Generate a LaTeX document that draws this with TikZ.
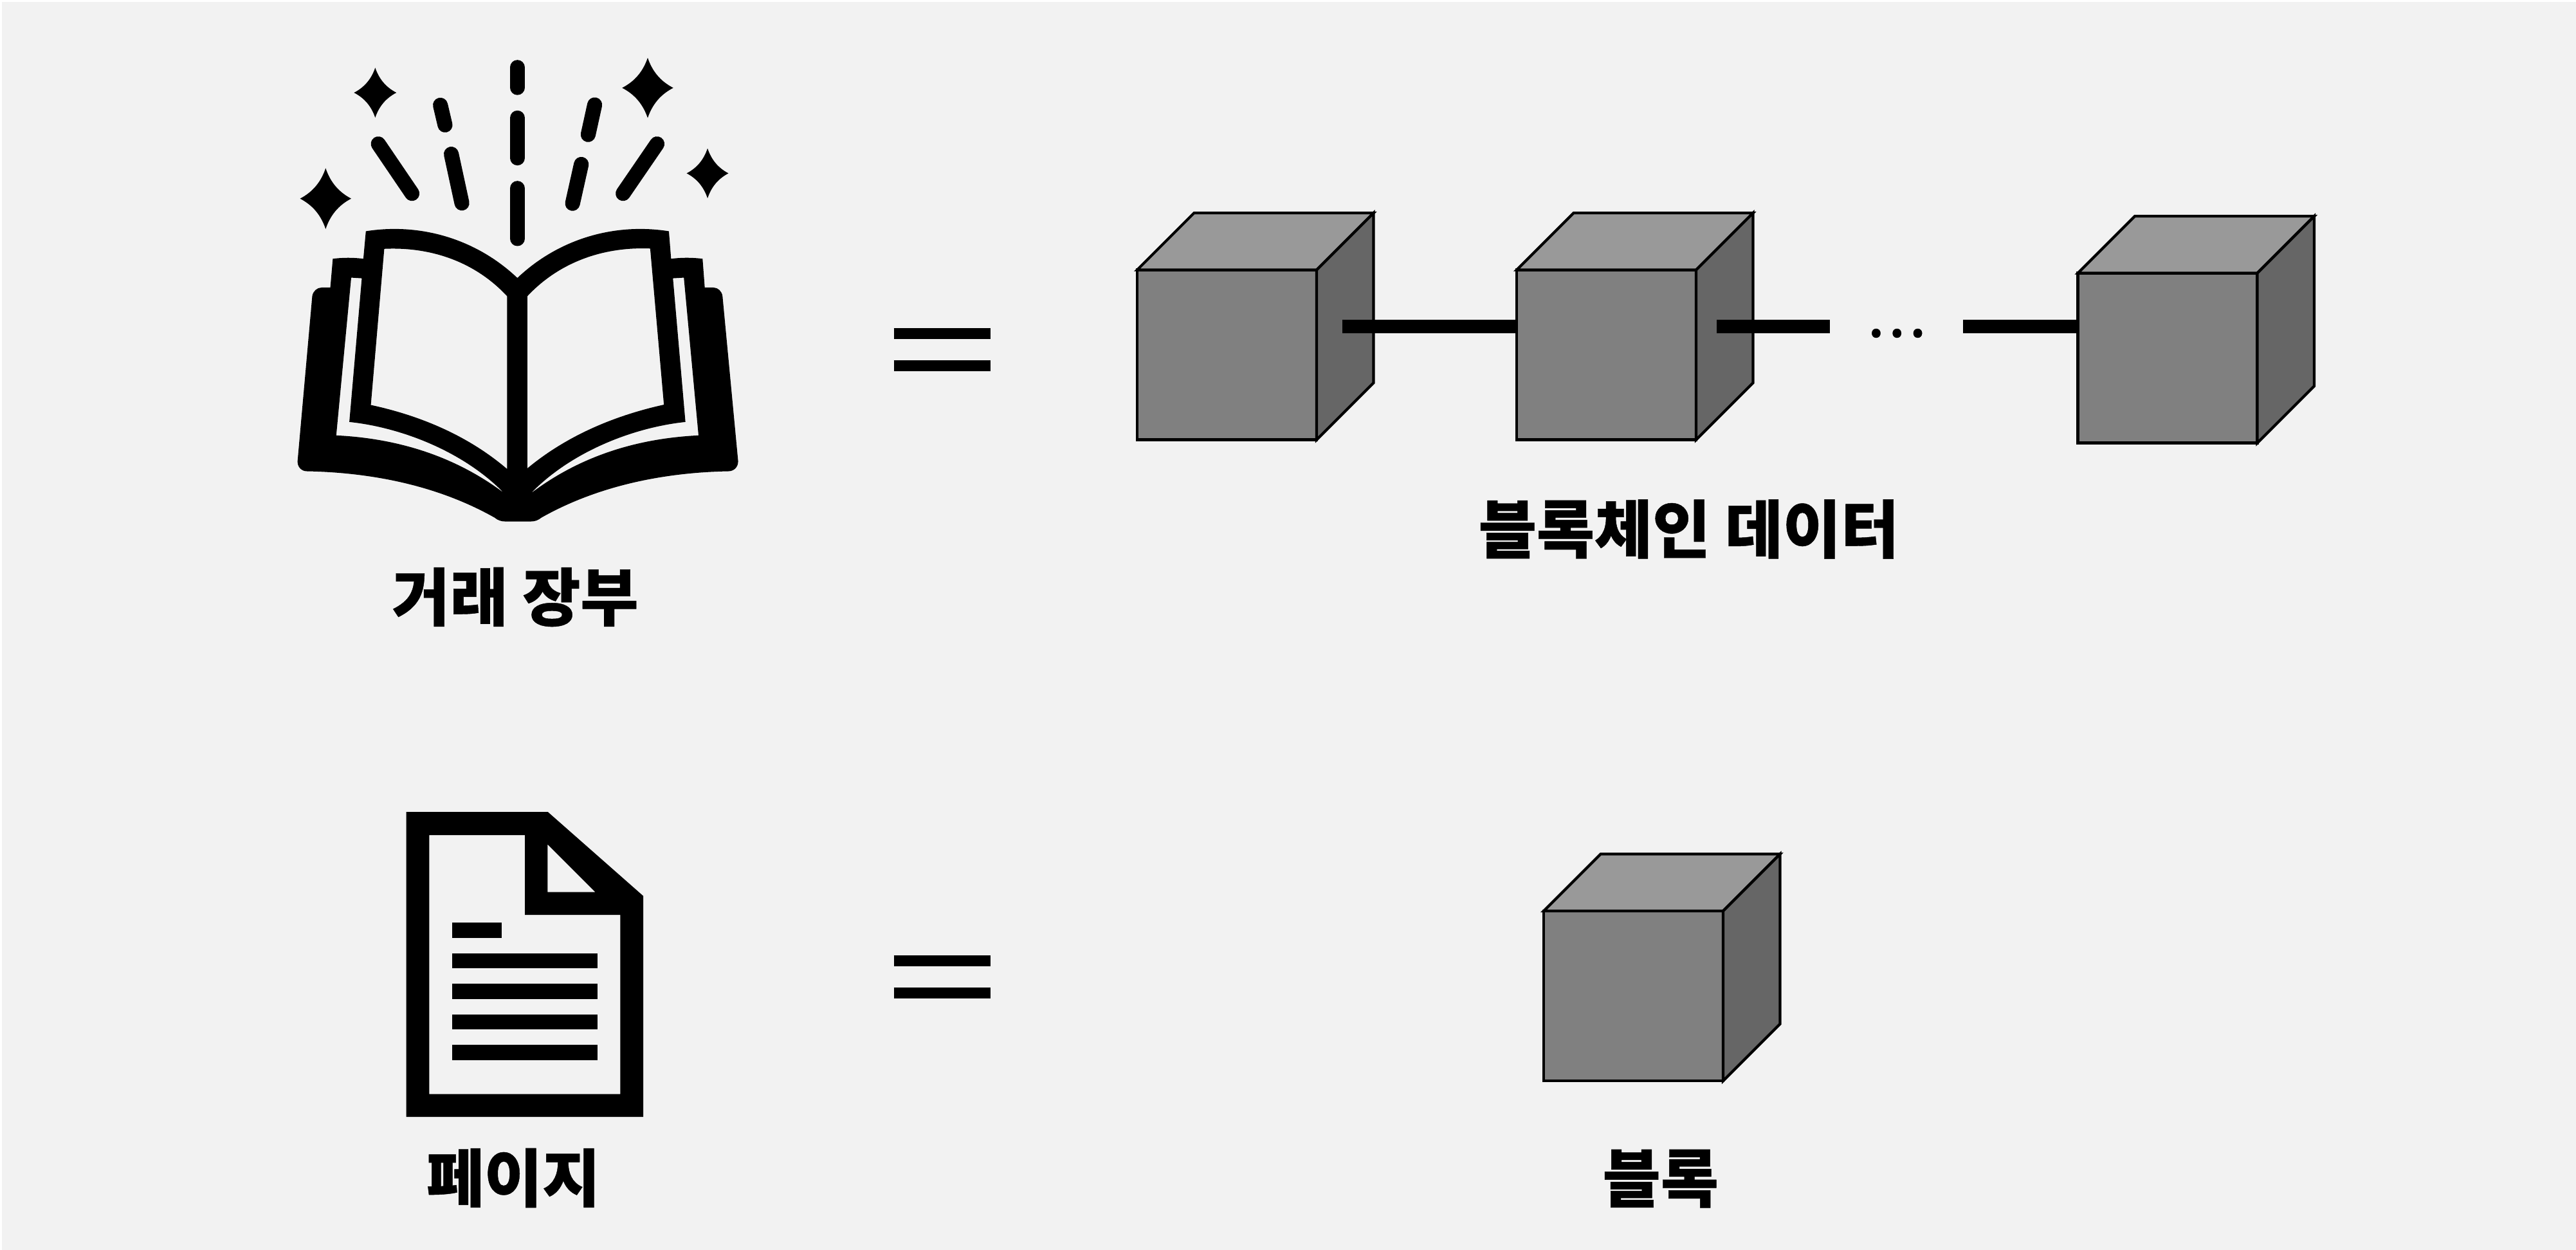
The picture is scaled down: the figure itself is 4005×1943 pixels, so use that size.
\documentclass[tikz,border=0pt]{standalone}
\usepackage{fontspec}
\newfontfamily\krfont{Noto Sans CJK KR Medium}[FakeBold=0.45]
\definecolor{pagebg}{HTML}{F2F2F2}
\definecolor{cubetop}{HTML}{999999}
\definecolor{cubefront}{HTML}{808080}
\definecolor{cubeside}{HTML}{666666}
\tikzset{
  label text/.style={font=\krfont\bfseries\fontsize{49}{55}\selectfont, inner sep=0pt, outer sep=0pt, text=black},
  cube line/.style={draw=black, line width=2.1pt, line join=miter},
  frontface/.style={cube line, fill=cubefront, anchor=north west, minimum width=139.5pt, minimum height=132pt, inner sep=0pt, outer sep=0pt},
  chainbar/.style={line width=10.5pt, draw=black},
  spark ray/.style={line width=11.6pt, line cap=round, draw=black},
  eqbar/.style={line width=8.6pt, draw=black},
  textbar/.style={fill=black}
}
\newcommand{\blockcube}[3]{%
  \node[frontface] (#1) at (#2,#3) {};
  \fill[cubetop,cube line] (#1.north west) -- ++(88.5,-88.5) -- ++(279,0) -- ++(-88.5,88.5) -- cycle;
  \fill[cubeside,cube line] (#1.north east) -- ++(88.5,-88.5) -- ++(0,264) -- ++(-88.5,88.5) -- cycle;
}
\newcommand{\sparklestar}[4]{%
  \fill[black] (#1,#2-#4) .. controls (#1+0.18*#3,#2-0.55*#4) and (#1+0.5*#3,#2-0.22*#4) .. (#1+#3,#2)
    .. controls (#1+0.5*#3,#2+0.22*#4) and (#1+0.18*#3,#2+0.55*#4) .. (#1,#2+#4)
    .. controls (#1-0.18*#3,#2+0.55*#4) and (#1-0.5*#3,#2+0.22*#4) .. (#1-#3,#2)
    .. controls (#1-0.5*#3,#2-0.22*#4) and (#1-0.18*#3,#2-0.55*#4) .. cycle;
}
\begin{document}
\begin{tikzpicture}[x=0.5pt,y=-0.5pt]
\useasboundingbox (0,0) rectangle (4005,1943);
\fill[white] (0,0) rectangle (4005,1943);
\fill[pagebg] (3,3) rectangle (4005,1943);

% open book
\begin{scope}[shift={(420,60)},x=0.24235pt,y=-0.2487pt]
  \fill[black,even odd rule]
    (793,748) .. controls (660,625) and (480,575) .. (307,602) -- (299,688)
      .. controls (265,684) and (235,684) .. (201,688) -- (193,778) -- (165,778)
      .. controls (150,778) and (137,790) .. (135,805) -- (88,1320)
      .. controls (87,1338) and (100,1352) .. (118,1352)
      .. controls (330,1356) and (540,1398) .. (720,1497)
      .. controls (730,1505) and (740,1509) .. (755,1509) -- (835,1509)
      .. controls (850,1509) and (860,1505) .. (870,1497)
      .. controls (1050,1398) and (1260,1356) .. (1470,1352)
      .. controls (1488,1352) and (1502,1338) .. (1501,1320) -- (1451,805)
      .. controls (1449,790) and (1437,778) .. (1422,778) -- (1394,778) -- (1387,688)
      .. controls (1353,684) and (1320,684) .. (1286,688) -- (1279,602)
      .. controls (1106,575) and (926,625) .. cycle
    (366,657) .. controls (520,650) and (660,700) .. (760,805) -- (760,1345)
      .. controls (640,1245) and (490,1180) .. (323,1145) -- cycle
    (1219,656) .. controls (1066,650) and (926,700) .. (825,805) -- (825,1343)
      .. controls (946,1245) and (1096,1180) .. (1263,1144) -- cycle
    (260,747) -- (294,749) -- (254,1198) .. controls (420,1215) and (620,1290) .. (750,1420)
      .. controls (600,1310) and (420,1250) .. (212,1240) -- cycle
    (1327,747) -- (1292,749) -- (1332,1198) .. controls (1166,1215) and (966,1290) .. (835,1422)
      .. controls (986,1310) and (1166,1250) .. (1374,1240) -- cycle;
  \draw[spark ray] (793,90) -- (793,153);
  \draw[spark ray] (793,248) -- (793,373);
  \draw[spark ray] (793,468) -- (793,625);
  \draw[spark ray] (347,329) -- (455,484);
  \draw[spark ray] (546,208) -- (561,270);
  \draw[spark ray] (581,361) -- (615,514);
  \draw[spark ray] (1041,207) -- (1020,300);
  \draw[spark ray] (998,393) -- (970,515);
  \draw[spark ray] (1241,329) -- (1132,484);
  \sparklestar{178}{500}{82}{95}
  \sparklestar{337}{169}{68}{78}
  \sparklestar{1211}{154}{82}{94}
  \sparklestar{1403}{421}{67}{78}
\end{scope}
\node[label text] (ledger) at (801,928) {거래 장부};

% equals, top row
\coordinate (eqAl) at (1389.7,518.6); \coordinate (eqAr) at (1539.7,518.6);
\coordinate (eqBl) at (1389.7,568.6); \coordinate (eqBr) at (1539.7,568.6);
\draw[eqbar] (eqAl) -- (eqAr);
\draw[eqbar] (eqBl) -- (eqBr);

% chain
\blockcube{cubeA}{1768}{419.5}
\blockcube{cubeB}{2358}{419.5}
\blockcube{cubeC}{3230.5}{424.5}
\coordinate (barAstart) at (2086.5,507);
\coordinate (barBstart) at (2669.4,507);
\coordinate (barBend) at (2845,507);
\coordinate (barCstart) at (3052,507);
\draw[chainbar] (barAstart) -- (barAstart -| cubeB.west);
\draw[chainbar] (barBstart) -- (barBend);
\draw[chainbar] (barCstart) -- (barCstart -| cubeC.west);
\node[inner sep=0pt, font=\krfont\fontsize{43}{50}\selectfont] (chaindots) at (2948,518) {…};
\node[label text] (chainlabel) at (2625.5,822.5) {블록체인 데이터};

% document icon
\fill[black,even odd rule]
  (631.7,1262) -- (851.7,1262) -- (1000,1392.6) -- (1000,1736) -- (631.7,1736) -- cycle
  (667.3,1298) -- (816,1298) -- (816,1422) -- (964.3,1422) -- (964.3,1700.5) -- (667.3,1700.5) -- cycle
  (851.3,1312.4) -- (925.3,1386.5) -- (851.3,1386.5) -- cycle;
\fill[textbar] (703,1433.8) rectangle (780.3,1457.7);
\fill[textbar] (703,1481.5) rectangle (928.7,1505);
\fill[textbar] (703,1529) rectangle (928.7,1552.6);
\fill[textbar] (703,1576.5) rectangle (928.7,1600);
\fill[textbar] (703,1623.8) rectangle (928.7,1647.6);
\node[label text] (pagelabel) at (798,1831) {페이지};

% equals, bottom row
\coordinate (eqCl) at (1389.7,1493.6); \coordinate (eqCr) at (1539.7,1493.6);
\coordinate (eqDl) at (1389.7,1543.6); \coordinate (eqDr) at (1539.7,1543.6);
\draw[eqbar] (eqCl) -- (eqCr);
\draw[eqbar] (eqDl) -- (eqDr);

% single block
\blockcube{cubeD}{2400}{1416}
\node[label text] (blocklabel) at (2581.7,1832) {블록};
\end{tikzpicture}
\end{document}
